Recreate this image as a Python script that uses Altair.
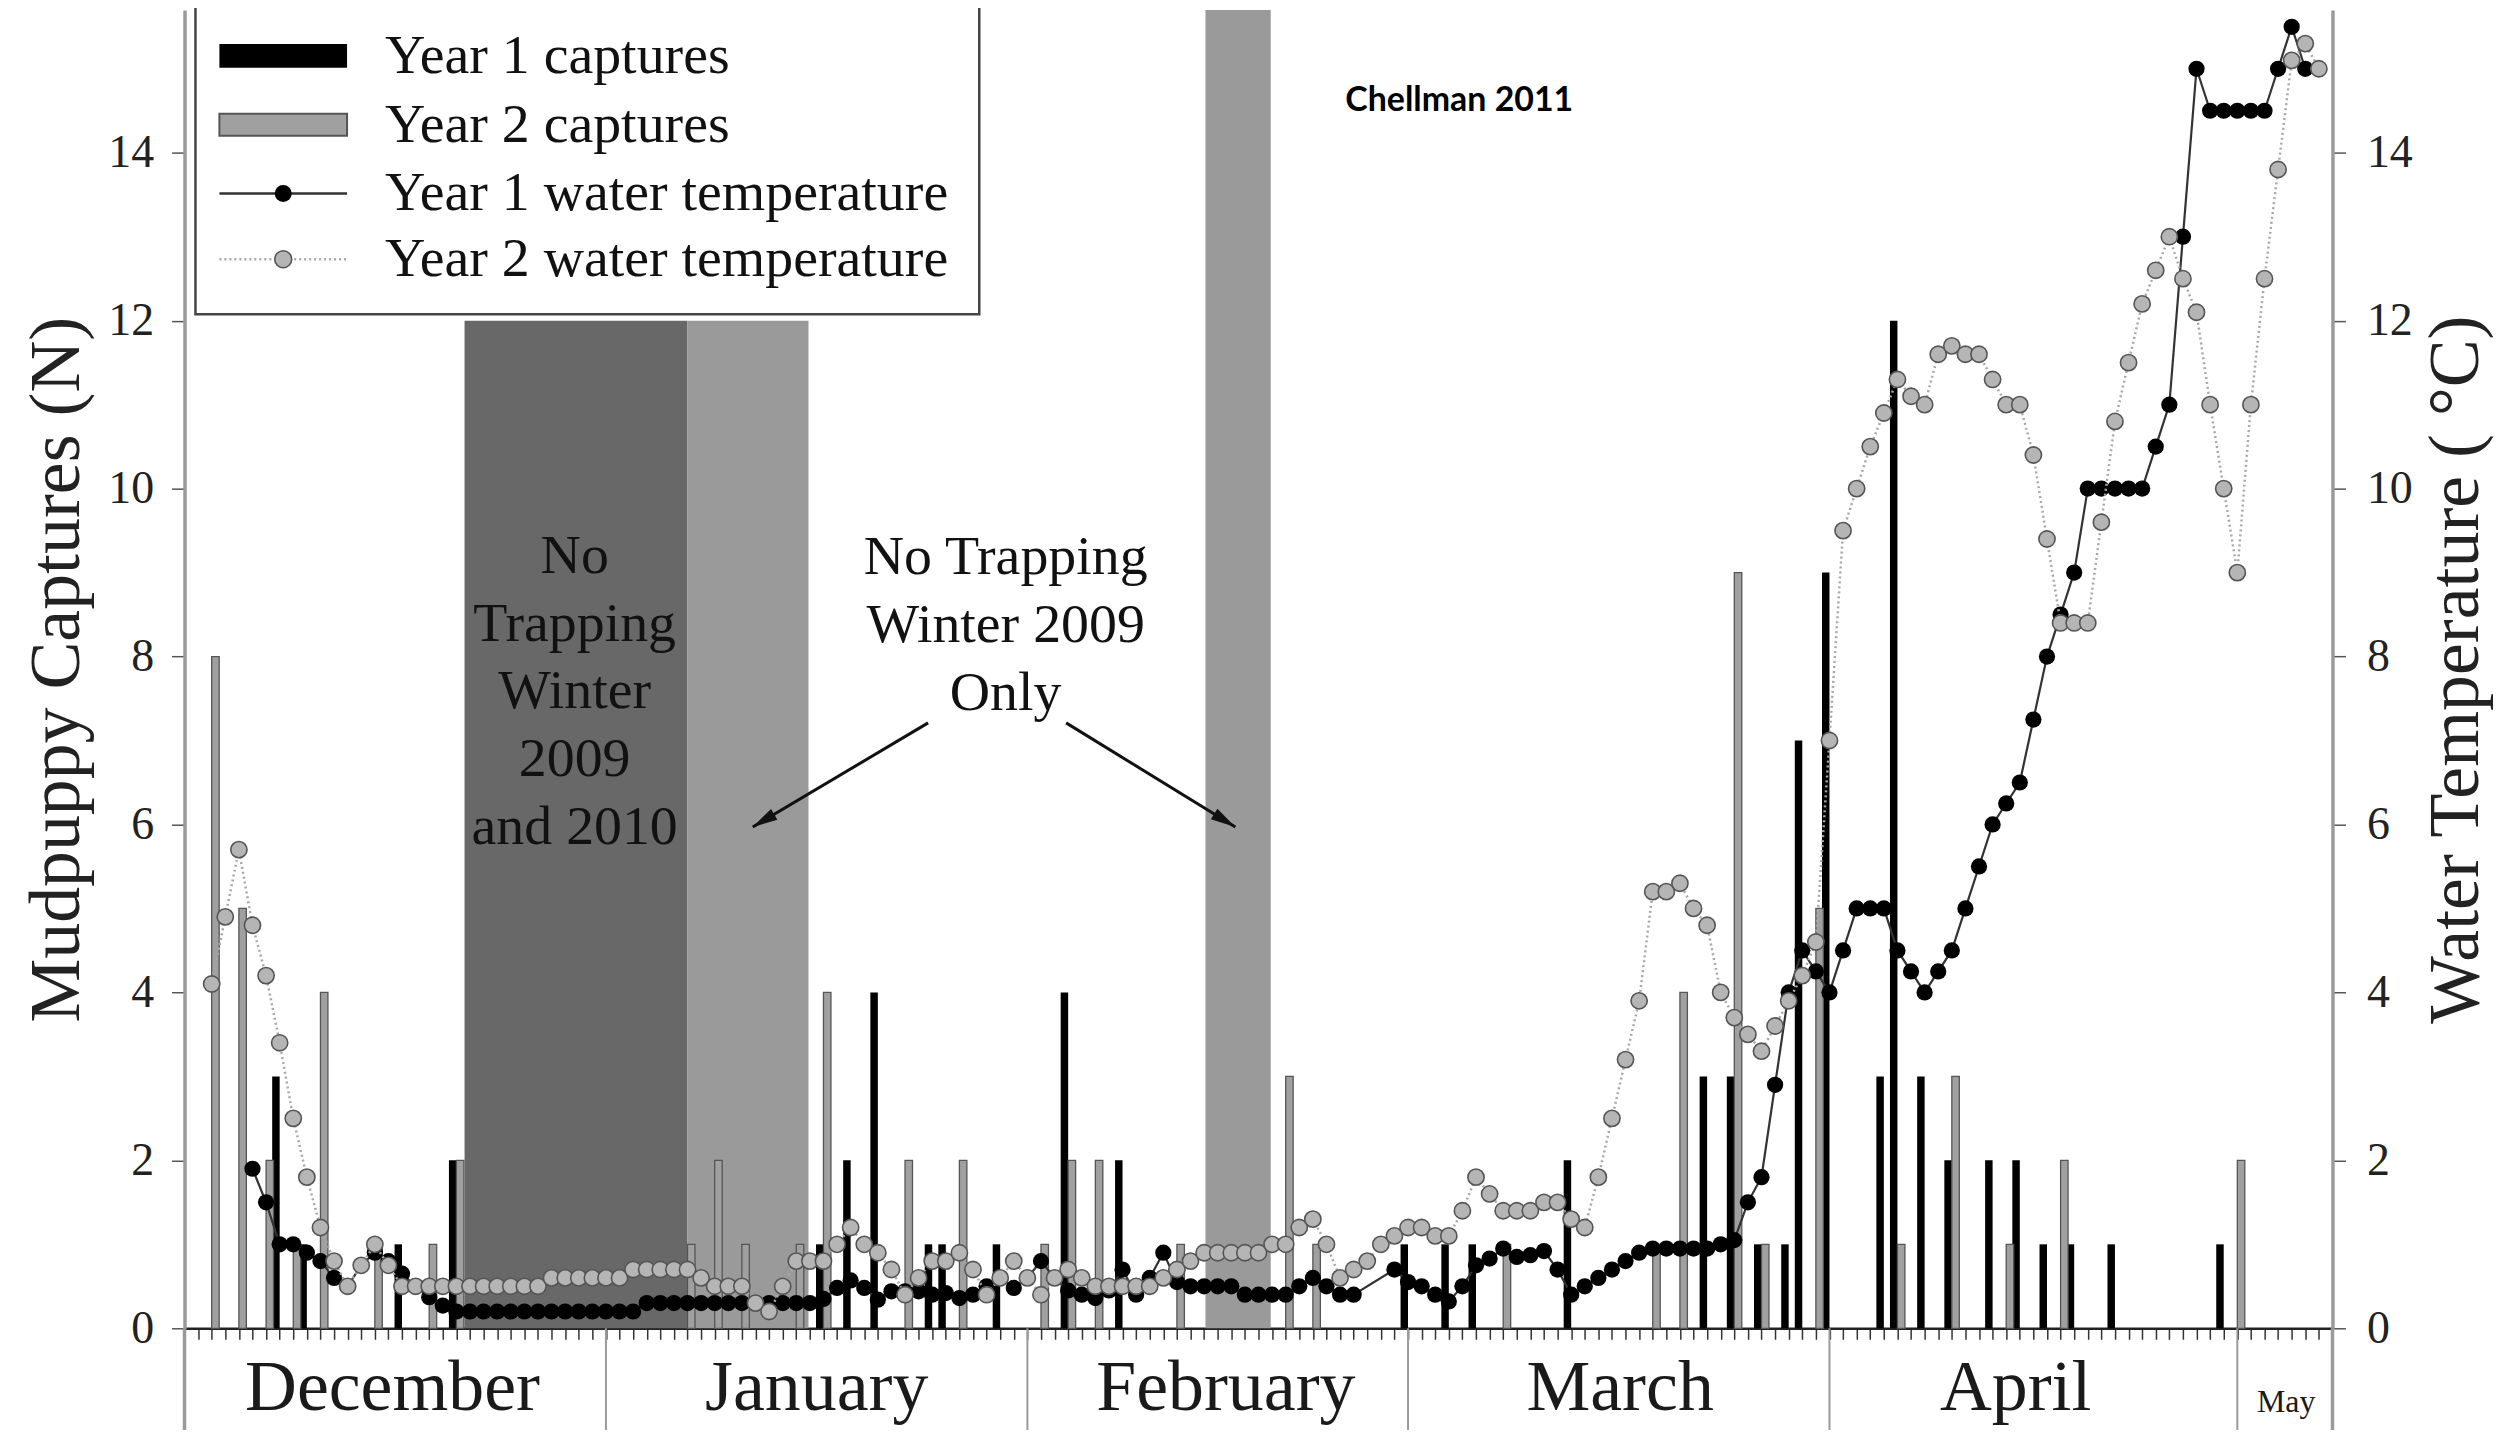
import math
import altair as alt
import pandas as pd

# ---------------- data ----------------
# day index: 0 = start of December, month boundaries at 31, 62, 90, 121, 151
y1_bar_day = [7, 9, 16, 20, 47, 49, 51, 55, 56, 60, 65, 69, 90, 93, 95, 102,
              112, 114, 116, 118, 119, 121, 125, 126, 128, 130, 133, 135, 137, 139, 142, 150]
y1_bar_n = [3, 1, 1, 2, 1, 2, 4, 1, 1, 1, 4, 2, 1, 1, 1, 2,
            3, 3, 1, 1, 7, 9, 3, 12, 3, 2, 2, 2, 1, 1, 1, 1]

y2_bar_day = [2, 4, 6, 8, 10, 14, 18, 20, 37, 39, 41, 45, 47, 53, 57, 63,
              65, 67, 73, 81, 83, 97, 108, 110, 114, 116, 120, 126, 130, 134, 138, 151]
y2_bar_n = [8, 5, 2, 1, 4, 1, 1, 2, 1, 2, 1, 1, 4, 2, 2, 1,
            2, 2, 1, 3, 1, 1, 1, 4, 9, 1, 5, 1, 3, 1, 2, 2]

y1_temp_day = [
    5, 6, 7, 8, 9, 10, 11, 12, 13, 14, 15, 16, 17, 18, 19, 20, 21, 22, 23, 24, 25, 26, 27, 28, 29, 30, 31,
    32, 33, 34, 35, 36, 37, 38, 39, 40, 41, 42, 43, 44, 45, 46, 47, 48, 49, 50, 51, 52, 53, 54, 55, 56, 57,
    58, 59, 60, 61, 62,
    63, 64, 65, 66, 67, 68, 69, 70, 71, 72, 73, 74, 75, 76, 77, 78, 79, 80, 81, 82, 83, 84, 85, 86, 89,
    90, 91, 92, 93, 94, 95, 96, 97, 98, 99, 100, 101, 102, 103, 104, 105, 106, 107, 108, 109, 110, 111,
    112, 113, 114, 115, 116, 117, 118, 119, 120,
    121, 122, 123, 124, 125, 126, 127, 128, 129, 130, 131, 132, 133, 134, 135, 136, 137, 138, 139, 140,
    141, 142, 143, 144, 145, 146, 147, 148, 149, 150,
    151, 152, 153, 154, 155, 156]
y1_temp_c = [
    1.9, 1.5, 1.0, 1.0, 0.9, 0.8, 0.6, 0.5, 0.75, 0.9, 0.8, 0.65, 0.5, 0.37, 0.27,
    0.2, 0.2, 0.2, 0.2, 0.2, 0.2, 0.2, 0.2, 0.2, 0.2, 0.2, 0.2,
    0.2, 0.2, 0.3, 0.3, 0.3, 0.3, 0.3, 0.3, 0.3, 0.3, 0.3, 0.3, 0.3, 0.3, 0.3,
    0.35, 0.48, 0.57, 0.48, 0.34, 0.44, 0.44, 0.44, 0.4, 0.42, 0.36, 0.4, 0.5, 0.6, 0.48, 0.6,
    0.8, 0.6, 0.45, 0.4, 0.36, 0.45, 0.7, 0.4, 0.6, 0.9, 0.55, 0.5, 0.5, 0.5, 0.5,
    0.4, 0.4, 0.4, 0.4, 0.5, 0.6, 0.5, 0.4, 0.4, 0.7,
    0.55, 0.5, 0.4, 0.32, 0.5, 0.75, 0.83, 0.95, 0.85, 0.87, 0.92, 0.7, 0.4, 0.5, 0.6, 0.7, 0.8, 0.9,
    0.95, 0.95, 0.95, 0.95, 0.95, 1.0, 1.05, 1.5, 1.8, 2.9, 4.0, 4.5, 4.25,
    4.0, 4.5, 5.0, 5.0, 5.0, 4.5, 4.25, 4.0, 4.25, 4.5, 5.0, 5.5, 6.0, 6.25, 6.5, 7.25, 8.0, 8.5, 9.0,
    10.0, 10.0, 10.0, 10.0, 10.0, 10.5, 11.0, 13.0, 15.0, 14.5, 14.5,
    14.5, 14.5, 14.5, 15.0, 15.5, 15.0]

y2_temp_day = [
    2, 3, 4, 5, 6, 7, 8, 9, 10, 11, 12, 13, 14, 15, 16, 17, 18, 19, 20, 21, 22, 23, 24, 25, 26, 27, 28,
    29, 30, 31,
    32, 33, 34, 35, 36, 37, 38, 39, 40, 41, 42, 43, 44, 45, 46, 47, 48, 49, 50, 51, 52, 53, 54, 55, 56,
    57, 58, 59, 60, 61, 62,
    63, 64, 65, 66, 67, 68, 69, 70, 71, 72, 73, 74, 75, 76, 77, 78, 79, 80, 81, 82, 83, 84, 85, 86, 87,
    88, 89,
    90, 91, 92, 93, 94, 95, 96, 97, 98, 99, 100, 101, 102, 103, 104, 105, 106, 107, 108, 109, 110, 111,
    112, 113, 114, 115, 116, 117, 118, 119, 120,
    121, 122, 123, 124, 125, 126, 127, 128, 129, 130, 131, 132, 133, 134, 135, 136, 137, 138, 139, 140,
    141, 142, 143, 144, 145, 146, 147, 148, 149, 150,
    151, 152, 153, 154, 155, 156, 157]
y2_temp_c = [
    4.1, 4.9, 5.7, 4.8, 4.2, 3.4, 2.5, 1.8, 1.2, 0.8, 0.5, 0.75, 1.0, 0.75,
    0.5, 0.5, 0.5, 0.5, 0.5, 0.5, 0.5, 0.5, 0.5, 0.5, 0.5, 0.6, 0.6, 0.6, 0.6, 0.6,
    0.6, 0.7, 0.7, 0.7, 0.7, 0.7, 0.6, 0.5, 0.5, 0.5, 0.3, 0.2, 0.5, 0.8, 0.8, 0.8, 1.0, 1.2, 1.0, 0.9,
    0.7, 0.4, 0.6, 0.8, 0.8, 0.9, 0.7, 0.4, 0.6, 0.8, 0.6,
    0.4, 0.6, 0.7, 0.6, 0.5, 0.5, 0.5, 0.5, 0.5, 0.6, 0.7, 0.8, 0.9, 0.9, 0.9, 0.9, 0.9, 1.0, 1.0, 1.2,
    1.3, 1.0, 0.6, 0.7, 0.8, 1.0, 1.1,
    1.2, 1.2, 1.1, 1.1, 1.4, 1.8, 1.6, 1.4, 1.4, 1.4, 1.5, 1.5, 1.3, 1.2, 1.8, 2.5, 3.2, 3.9, 5.2, 5.2,
    5.3, 5.0, 4.8, 4.0, 3.7, 3.5, 3.3, 3.6, 3.9, 4.2, 4.6,
    7.0, 9.5, 10.0, 10.5, 10.9, 11.3, 11.1, 11.0, 11.6, 11.7, 11.6, 11.6, 11.3, 11.0, 11.0, 10.4, 9.4,
    8.4, 8.4, 8.4, 9.6, 10.8, 11.5, 12.2, 12.6, 13.0, 12.5, 12.1, 11.0, 10.0,
    9.0, 11.0, 12.5, 13.8, 15.1, 15.3, 15.0]

months = ["December", "January", "February", "March", "April"]
month_label_day = [15.3, 46.5, 76.6, 105.6, 134.7]
last_month = "May"
last_month_day = 154.6
month_bounds = [31, 62, 90, 121, 151]

nt_start = [20.6, 37.0, 75.1]
nt_end = [37.0, 45.9, 79.9]
nt_top = [12, 12, 16]
nt_fill = ["#686868", "#9a9a9a", "#9a9a9a"]

y_ticks = [0, 2, 4, 6, 8, 10, 12, 14]
day_ticks = list(range(0, 159))

legend_labels = ["Year 1 captures", "Year 2 captures",
                 "Year 1 water temperature", "Year 2 water temperature"]

# ---------------- layout ----------------
W, H = 2154, 1322
TMAX = 158.0
YMAX = 15.70
PXD = W / TMAX
PXV = H / YMAX
SERIF = "Liberation Serif"
BW = 0.55
DOT = 265

xscale = alt.Scale(domain=[0, TMAX], nice=False, zero=False)
yscale = alt.Scale(domain=[0, YMAX], nice=False, zero=False)
xaxis = alt.Axis(values=day_ticks, labels=False, title=None, tickSize=11, tickColor="#333",
                 tickWidth=1.5, domainColor="#222", domainWidth=2.5, grid=False)


def X(f):
    return alt.X(f, type="quantitative", scale=xscale, axis=xaxis)


def YN(f):
    return alt.Y(f, type="quantitative", scale=yscale, axis=None)


left_axis = alt.Axis(values=y_ticks, orient="left", title="Mudpuppy Captures (N)",
                     labelFont=SERIF, labelFontSize=46, labelColor="#222", labelPadding=18,
                     tickSize=13, tickColor="#555", tickWidth=1.5,
                     domainColor="#9a9a9a", domainWidth=3.5, grid=False,
                     titleFont=SERIF, titleFontSize=72, titleFontWeight="normal",
                     titleColor="#222", titlePadding=14)
right_axis = alt.Axis(values=y_ticks, orient="right", title="Water Temperature ( °C)",
                      labelFont=SERIF, labelFontSize=46, labelColor="#222", labelPadding=21,
                      tickSize=13, tickColor="#555", tickWidth=1.5,
                      domainColor="#9a9a9a", domainWidth=3.5, grid=False,
                      titleFont=SERIF, titleFontSize=72, titleFontWeight="normal",
                      titleColor="#222", titleAngle=270, titleBaseline="top", titlePadding=8)

shade_df = pd.DataFrame({"s0": nt_start, "s1": nt_end, "top": nt_top, "fill": nt_fill})
shade_df["top"] = shade_df["top"].clip(upper=YMAX)
shade_df["bottom"] = 0

y1b = pd.DataFrame({"day": y1_bar_day, "n": y1_bar_n})
y1b["x0"] = y1b["day"] - BW
y1b["zero"] = 0
y2b = pd.DataFrame({"day": y2_bar_day, "n": y2_bar_n})
y2b["x1"] = y2b["day"] + BW
y2b["zero"] = 0

y1t = pd.DataFrame({"day": y1_temp_day, "c": y1_temp_c})
y2t = pd.DataFrame({"day": y2_temp_day, "c": y2_temp_c})

layers = []

layers.append(alt.Chart(shade_df).mark_rect().encode(
    x=X("s0"), x2="s1", y=YN("bottom"), y2="top", color=alt.Color("fill:N", scale=None)))

layers.append(alt.Chart(y1b).mark_rect(color="#000000").encode(
    x=X("x0"), x2="day", y=alt.Y("n:Q", scale=yscale, axis=left_axis), y2="zero"))

layers.append(alt.Chart(y2b).mark_rect(fill="#a0a0a0", stroke="#555555", strokeWidth=1.3).encode(
    x=X("day"), x2="x1", y=YN("n"), y2="zero"))

# annotations (y = first line of each block)
ann = pd.DataFrame({"t": [28.7, 60.4], "v": [9.2, 9.18],
                    "label": ["No\nTrapping\nWinter\n2009\nand 2010", "No Trapping\nWinter 2009\nOnly"]})
layers.append(alt.Chart(ann).mark_text(font=SERIF, fontSize=56, lineHeight=68, lineBreak="\n",
                                       align="center", baseline="middle", color="#111").encode(
    x=X("t"), y=YN("v"), text="label:N"))

arr = pd.DataFrame({"x0": [54.7, 64.85], "y0": [7.21, 7.21], "x1": [41.8, 77.3], "y1": [5.97, 5.97]})
arr["ang"] = [
    (math.degrees(math.atan2((b - a) * PXD, (d - c) * PXV)) + 360) % 360
    for a, b, c, d in zip(arr.x0, arr.x1, arr.y0, arr.y1)
]
layers.append(alt.Chart(arr).mark_rule(color="#111", strokeWidth=3).encode(
    x=X("x0"), x2="x1", y=YN("y0"), y2="y1"))
layers.append(alt.Chart(arr).mark_point(shape="M0,0L-0.25,1L0.25,1Z", filled=True, color="#111",
                                        size=2500, opacity=1).encode(
    x=X("x1"), y=YN("y1"), angle=alt.Angle("ang:Q", scale=None)))

# temperature series
layers.append(alt.Chart(y1t).mark_line(color="#333333", strokeWidth=2.2).encode(
    x=X("day"), y=alt.Y("c:Q", scale=yscale, axis=right_axis)))
layers.append(alt.Chart(y1t).mark_circle(color="#000000", size=DOT, opacity=1).encode(
    x=X("day"), y=YN("c")))
layers.append(alt.Chart(y2t).mark_line(color="#a8a8a8", strokeWidth=2.5, strokeDash=[2, 3]).encode(
    x=X("day"), y=YN("c")))
layers.append(alt.Chart(y2t).mark_circle(fill="#b5b5b5", stroke="#555555", strokeWidth=1.6,
                                         size=DOT, opacity=1).encode(
    x=X("day"), y=YN("c")))

# month band
mb = pd.DataFrame({"d": month_bounds})
layers.append(alt.Chart(mb).mark_rule(color="#9a9a9a", strokeWidth=2).encode(
    x=X("d"), y=alt.value(H), y2=alt.value(H + 115)))
edges = pd.DataFrame({"d": [0, TMAX]})
layers.append(alt.Chart(edges).mark_rule(color="#9a9a9a", strokeWidth=3.5).encode(
    x=X("d"), y=alt.value(H), y2=alt.value(H + 115)))
ml = pd.DataFrame({"m": months, "d": month_label_day})
layers.append(alt.Chart(ml).mark_text(font=SERIF, fontSize=72, color="#1a1a1a",
                                      baseline="alphabetic", align="center").encode(
    x=X("d"), y=alt.value(H + 82), text="m:N"))
ml2 = pd.DataFrame({"m": [last_month], "d": [last_month_day]})
layers.append(alt.Chart(ml2).mark_text(font=SERIF, fontSize=32, color="#1a1a1a",
                                       baseline="alphabetic", align="center").encode(
    x=X("d"), y=alt.value(H + 84), text="m:N"))

# legend (hand-built)
dummy = pd.DataFrame({"a": [0]})
LX0, LX1, LXC, LT = 35, 163, 99, 201
EY = [46, 115, 184, 250]
layers.append(alt.Chart(dummy).mark_rect(fill="white", stroke="#444", strokeWidth=2.5).encode(
    x=alt.value(11), x2=alt.value(797), y=alt.value(-6), y2=alt.value(305)))
layers.append(alt.Chart(dummy).mark_rect(fill="#000").encode(
    x=alt.value(LX0), x2=alt.value(LX1), y=alt.value(EY[0] - 12), y2=alt.value(EY[0] + 12)))
layers.append(alt.Chart(dummy).mark_rect(fill="#a0a0a0", stroke="#555", strokeWidth=2).encode(
    x=alt.value(LX0), x2=alt.value(LX1), y=alt.value(EY[1] - 11), y2=alt.value(EY[1] + 11)))
layers.append(alt.Chart(dummy).mark_rule(color="#333", strokeWidth=2.5).encode(
    x=alt.value(LX0), x2=alt.value(LX1), y=alt.value(EY[2])))
layers.append(alt.Chart(dummy).mark_circle(color="#000", size=290, opacity=1).encode(
    x=alt.value(LXC), y=alt.value(EY[2])))
layers.append(alt.Chart(dummy).mark_rule(color="#a8a8a8", strokeWidth=2.5, strokeDash=[2, 3]).encode(
    x=alt.value(LX0), x2=alt.value(LX1), y=alt.value(EY[3])))
layers.append(alt.Chart(dummy).mark_circle(fill="#b5b5b5", stroke="#555", strokeWidth=1.6,
                                           size=290, opacity=1).encode(
    x=alt.value(LXC), y=alt.value(EY[3])))
for lab, ey in zip(legend_labels, EY):
    layers.append(alt.Chart(dummy).mark_text(text=lab, font=SERIF, fontSize=56, color="#111",
                                             align="left", baseline="middle").encode(
        x=alt.value(LT), y=alt.value(ey)))

layers.append(alt.Chart(dummy).mark_text(text="Chellman 2011", font="Lato", fontWeight="bold",
                                         fontSize=34, color="#000", align="left",
                                         baseline="alphabetic").encode(
    x=alt.value(1164), y=alt.value(101)))

chart = alt.layer(*layers).resolve_scale(y="independent").properties(
    width=W, height=H,
    autosize=alt.AutoSizeParams(type="none"),
    padding={"left": 177, "top": 0, "right": 169, "bottom": 100},
    background="white",
).configure_view(stroke=None)

chart.save("out.html", embed_options={"renderer": "svg", "actions": False})
